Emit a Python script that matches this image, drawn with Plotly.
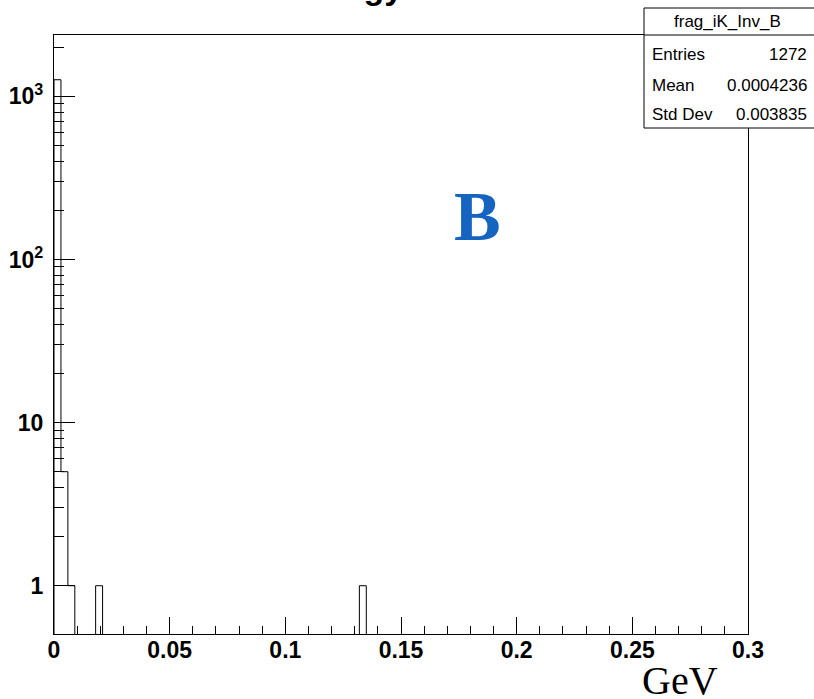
import numpy as np
import plotly.graph_objects as go

# ---------------- data ----------------
x_min, x_max, n_bins = 0.0, 0.3, 100
filled_bins = [0, 1, 2, 6, 44]          # bin indices with entries
filled_counts = [1264, 5, 1, 1, 1]      # counts in those bins

y_major_vals = [1, 10, 100, 1000]
y_major_text = ["1", "10", "10<sup>2</sup>", "10<sup>3</sup>"]
x_tick_vals = [0, 0.05, 0.1, 0.15, 0.2, 0.25, 0.3]
x_tick_text = ["0", "0.05", "0.1", "0.15", "0.2", "0.25", "0.3"]

hist_name = "frag_iK_Inv_B"
stat_labels = ["Entries", "Mean", "Std Dev"]
stat_values = ["1272", "0.0004236", "0.003835"]
x_unit = "GeV"
panel_label = "B"
title_text = "Energy"

# ---------------- geometry ----------------
W, H = 814, 699
L, R, T, B = 54, 748, 35, 634
y_log_range = [-0.296, 3.376]

def px(xp):
    return (xp - L) / (R - L)

def py(yp):
    return (B - yp) / (B - T)

# build histogram step outline
counts = np.zeros(n_bins)
for i, c in zip(filled_bins, filled_counts):
    counts[i] = c
edges = np.linspace(x_min, x_max, n_bins + 1)
floor = 1e-3
xs, ys = [edges[0]], [floor]
for i in range(n_bins):
    v = counts[i] if counts[i] > 0 else floor
    xs += [edges[i], edges[i + 1]]
    ys += [v, v]
xs.append(edges[-1]); ys.append(floor)

fig = go.Figure()
fig.add_trace(go.Scatter(x=xs, y=ys, mode="lines",
                         line=dict(color="black", width=1),
                         hoverinfo="skip", showlegend=False))

tick_font = dict(family="Liberation Sans, Arial", size=23,
                 color="black", weight="bold")

minor_y = []
for d in [1, 10, 100, 1000]:
    for k in range(2, 10):
        minor_y.append(k * d)

fig.update_layout(
    width=W, height=H,
    margin=dict(l=L, r=W - R, t=T, b=H - B, pad=0),
    paper_bgcolor="white", plot_bgcolor="white",
    xaxis=dict(range=[x_min, x_max], tickvals=x_tick_vals, ticktext=x_tick_text,
               ticks="inside", ticklen=17, tickwidth=1, tickcolor="black",
               minor=dict(dtick=0.01, tick0=0, ticks="inside", ticklen=8,
                          tickwidth=1, tickcolor="black"),
               showline=True, linecolor="black", linewidth=1.3, mirror=True,
               showgrid=False, zeroline=False, tickfont=tick_font,
               ticklabelstandoff=-5, automargin=False),
    yaxis=dict(type="log", range=y_log_range, tickvals=y_major_vals,
               ticktext=y_major_text,
               ticks="inside", ticklen=21, tickwidth=1, tickcolor="black",
               minor=dict(tickvals=minor_y, ticks="inside", ticklen=10,
                          tickwidth=1, tickcolor="black"),
               showline=True, linecolor="black", linewidth=1.3, mirror=True,
               showgrid=False, zeroline=False, tickfont=tick_font,
               ticklabelstandoff=5, automargin=False),
)

# stats box
box_l, box_r, box_t, box_sep, box_b = 644, 820, 8, 35, 128
fig.add_shape(type="rect", xref="paper", yref="paper",
              x0=px(box_l), x1=px(box_r), y0=py(box_b), y1=py(box_t),
              line=dict(color="black", width=1), fillcolor="white", layer="above")
fig.add_shape(type="line", xref="paper", yref="paper",
              x0=px(box_l), x1=px(box_r), y0=py(box_sep), y1=py(box_sep),
              line=dict(color="black", width=1), layer="above")

stat_font = dict(family="Liberation Sans, Arial", size=17, color="black")
fig.add_annotation(x=px(727), y=py(21), xref="paper", yref="paper", text=hist_name,
                   showarrow=False, xanchor="center", yanchor="middle", font=stat_font)
row_y = [55, 85, 114]
for lab, val, yy in zip(stat_labels, stat_values, row_y):
    fig.add_annotation(x=px(650), y=py(yy), xref="paper", yref="paper", text=lab,
                       showarrow=False, xanchor="left", yanchor="middle", font=stat_font)
    fig.add_annotation(x=px(809), y=py(yy), xref="paper", yref="paper", text=val,
                       showarrow=False, xanchor="right", yanchor="middle", font=stat_font)

# panel label and unit
fig.add_annotation(x=px(477), y=py(216), xref="paper", yref="paper", text=panel_label,
                   showarrow=False, xanchor="center", yanchor="middle",
                   font=dict(family="Liberation Serif, Times New Roman", size=70,
                             color="#1565C0", weight="bold"))
fig.add_annotation(x=px(680), y=py(680), xref="paper", yref="paper", text=x_unit,
                   showarrow=False, xanchor="center", yanchor="middle",
                   font=dict(family="Liberation Serif, Times New Roman", size=40, color="black"))
# title, mostly above the visible area
fig.add_annotation(x=px(405), y=py(-13), xref="paper", yref="paper", text=title_text,
                   showarrow=False, xanchor="right", yanchor="middle",
                   font=dict(family="Liberation Sans, Arial", size=34,
                             color="black", weight="bold"))

fig.write_html("out.html", config={"displayModeBar": False},
               post_script="document.body.style.margin='0';document.body.style.overflow='hidden';")
